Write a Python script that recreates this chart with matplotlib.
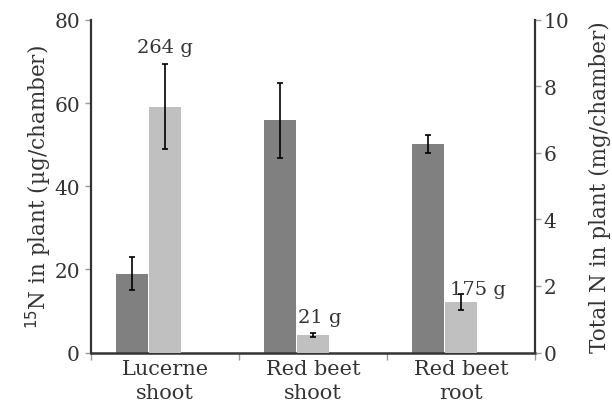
import matplotlib.pyplot as plt
import numpy as np

plt.rcParams['font.family'] = ['DejaVu Serif']
plt.rcParams['font.size'] = 12

categories = ['Lucerne\nshoot', 'Red beet\nshoot', 'Red beet\nroot']
n15 = [19.0, 55.9, 50.1]          # µg/chamber, left axis
n15_err = [4.0, 9.0, 2.2]
total_n = [7.39, 0.54, 1.52]      # mg/chamber, right axis
total_n_err = [1.27, 0.06, 0.24]
biomass = ['264 g', '21 g', '175 g']
biomass_y = [72.2, 7.3, 14.1]
biomass_dx = [0.0, 1.047, 2.115]

dark = '#808080'
light = '#c0c0c0'
txt = '#333333'
w = 0.223

fig = plt.figure(figsize=(6.12, 4.10), dpi=100)
ax = fig.add_axes([0.1487, 0.1378, 0.7255, 0.8112])
ax2 = ax.twinx()

x = np.arange(len(categories))
ax.bar(x - w, n15, width=w * 0.97, color=dark, zorder=2)
ax.errorbar(x - w, n15, yerr=n15_err, fmt='none', ecolor='black',
            elinewidth=1.2, capsize=2.2, capthick=1.2, zorder=3)
ax2.bar(x, total_n, width=w * 0.97, color=light, zorder=2)
ax2.errorbar(x, total_n, yerr=total_n_err, fmt='none', ecolor='black',
             elinewidth=1.2, capsize=2.2, capthick=1.2, zorder=3)

for xx, yy, s in zip(biomass_dx, biomass_y, biomass):
    ax.text(xx, yy, s, ha='center', va='baseline', color=txt, fontsize=14)

ax.set_xlim(-0.5, 2.5)
ax.set_ylim(0, 80)
ax2.set_ylim(0, 10)
ax.set_yticks([0, 20, 40, 60, 80])
ax2.set_yticks([0, 2, 4, 6, 8, 10])

ax.set_xticks([-0.5, 0.5, 1.5, 2.5])
ax.set_xticklabels([])
ax.set_xticks(x, minor=True)
ax.set_xticklabels(categories, minor=True, linespacing=1.3)
ax.tick_params(axis='x', which='major', length=5, color='#999999', width=1)
ax.tick_params(axis='x', which='minor', length=0, pad=5, labelsize=15,
               labelcolor=txt)
ax.tick_params(axis='y', length=4, color='#999999', width=1, labelsize=14.5,
               labelcolor=txt, pad=4)
ax2.tick_params(axis='y', length=4, color='#999999', width=1, labelsize=14.5,
                labelcolor=txt, pad=2)

for a in (ax, ax2):
    a.spines['top'].set_visible(False)
ax.spines['right'].set_visible(False)
ax.spines['left'].set_color('#333333')
ax.spines['left'].set_linewidth(1.6)
ax.spines['bottom'].set_color('#333333')
ax.spines['bottom'].set_linewidth(1.8)
ax2.spines['left'].set_visible(False)
ax2.spines['bottom'].set_visible(False)
ax2.spines['right'].set_color('#333333')
ax2.spines['right'].set_linewidth(1.6)

ax.set_ylabel('$^{15}$N in plant (µg/chamber)', color=txt, fontsize=15.5,
              labelpad=0)
ax2.set_ylabel('Total N in plant (mg/chamber)', color=txt, fontsize=15.5,
               labelpad=14)

fig.savefig('out.png', dpi=100)
